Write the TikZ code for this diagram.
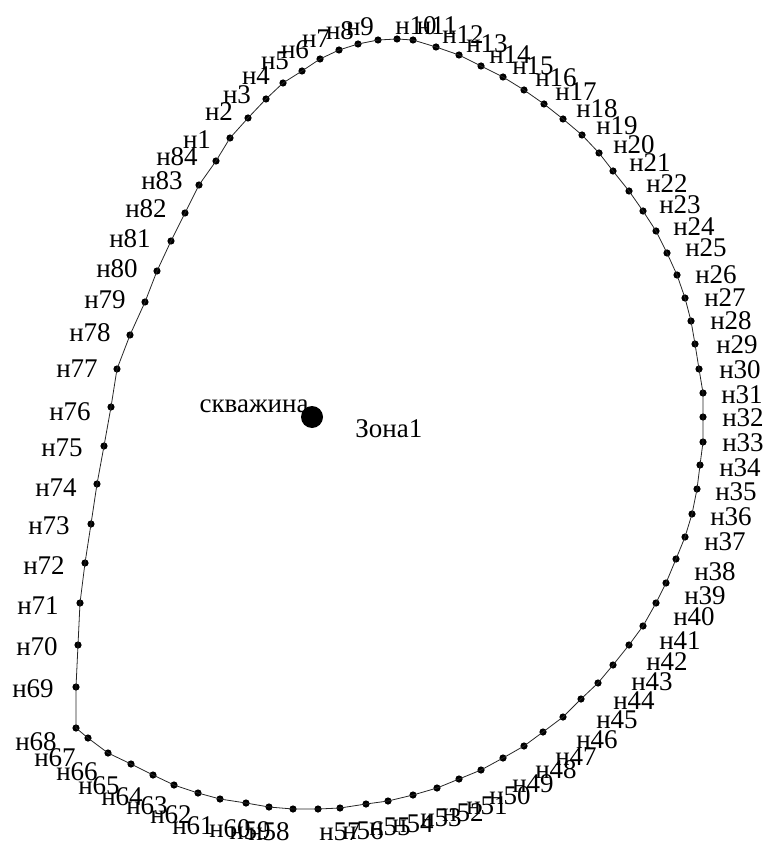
\documentclass[tikz,border=0pt]{standalone}
\usepackage{fontspec}
\setmainfont{Liberation Serif}
\usepackage{tikz}
\usetikzlibrary{positioning}
\newcommand{\lblfont}{\fontsize{13.5}{16}\selectfont}

\begin{document}
\begin{tikzpicture}[x=0.5pt,y=-0.5pt,
    pnt/.style={circle,fill=black,inner sep=0pt,minimum size=3.6pt},
    pntlbl/.style={inner sep=0pt,font=\lblfont},
    contour/.style={black!85,line width=0.4pt},
    well/.style={circle,fill=black,inner sep=0pt,minimum size=11pt}]
  \useasboundingbox (0,0) rectangle (762,845);
  % boundary points and their labels
  \foreach \i/\x/\y/\lx/\ly in {
      1/230/138/197/140, 2/248/118/219/112, 3/266/99/237/95, 4/283/83/256/76,
      5/302/71/275/61, 6/320/59/295/50, 7/339/50/316/39, 8/358/44/340/31,
      9/378/40/360/27, 10/397/39/416/26, 11/413/40/437/26, 12/436/47/463/35,
      13/459/55/487/44, 14/481/66/510/55, 15/503/77/533/66, 16/524/90/556/78,
      17/544/104/576/92, 18/563/119/597/109, 19/582/135/617/126, 20/599/153/634/145,
      21/613/171/650/163, 22/629/191/667/184, 23/643/211/680/205, 24/656/231/694/227,
      25/667/253/706/248, 26/677/275/716/275, 27/685/298/725/298, 28/691/321/731/321,
      29/695/344/737/345, 30/699/369/740/370, 31/703/393/742/395, 32/703/417/743/418,
      33/703/442/743/443, 34/700/465/740/468, 35/697/489/736/492, 36/692/514/731/517,
      37/685/537/725/542, 38/676/559/715/572, 39/666/583/705/596, 40/656/603/694/617,
      41/643/626/680/641, 42/629/645/667/662, 43/613/665/652/682, 44/598/683/634/701,
      45/581/699/617/720, 46/563/717/597/740, 47/543/732/576/757, 48/524/746/556/770,
      49/503/758/533/784, 50/481/770/510/796, 51/459/779/487/806, 52/437/788/463/813,
      53/413/795/441/818, 54/388/801/413/824, 55/366/804/390/827, 56/340/808/363/831,
      57/318/809/340/832, 58/293/809/269/832, 59/269/807/250/831, 60/246/803/230/829,
      61/220/799/193/826, 62/198/793/171/815, 63/174/785/147/806, 64/153/775/122/797,
      65/131/764/99/786, 66/108/753/77/772, 67/88/738/55/758, 68/76/728/36/742,
      69/76/687/33/689, 70/78/645/37/647, 71/80/603/38/606, 72/85/563/44/566,
      73/91/524/49/526, 74/97/484/56/488, 75/104/446/62/448, 76/111/407/70/412,
      77/117/369/77/369, 78/130/335/90/333, 79/145/302/105/300, 80/157/271/117/269,
      81/171/241/130/239, 82/185/213/146/209, 83/199/185/162/181, 84/216/161/177/157} {
    \node[pnt] (n\i) at (\x,\y) {};
    \node[pntlbl] (ln\i) at (\lx,\ly) {н\i};
  }
  % closed contour through the points
  \draw[contour] (n1.center) \foreach \i in {2,...,84} { -- (n\i.center) } -- (n1.center);
  % well and zone
  \node[well] (well) at (312,417) {};
  \node[pntlbl,anchor=base east] (welllbl) at (309,412) {скважина};
  \node[pntlbl,anchor=base west] (zone) at (355,437) {Зона1};
\end{tikzpicture}
\end{document}
